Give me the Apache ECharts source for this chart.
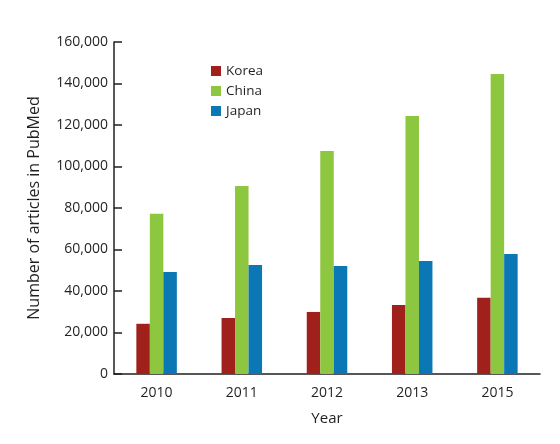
<!DOCTYPE html>
<html><head><meta charset="utf-8">
<script src="https://cdn.jsdelivr.net/npm/echarts@6/dist/echarts.min.js"></script>
<style>html,body{margin:0;padding:0;background:#fff}#c{width:560px;height:444px}</style>
</head><body><div id="c"></div>
<script>
const years = ['2010', '2011', '2012', '2013', '2015'];
const korea = [24200, 27000, 29900, 33200, 36700];
const china = [77200, 90600, 107500, 124300, 144600];
const japan = [49200, 52500, 52000, 54500, 57800];
const yTicks = [0, 20000, 40000, 60000, 80000, 100000, 120000, 140000, 160000];

const font = 'Open Sans';
const txt = '#231f20';
const chart = echarts.init(document.getElementById('c'));
function bar(name, data, color) {
  return {name, type: 'bar', data, barWidth: 13.5, barGap: '0%',
    itemStyle: {color}};
}
chart.setOption({
  animation: false,
  textStyle: {fontFamily: font, color: txt},
  grid: {left: 114, right: 20, top: 42, bottom: 70},
  legend: {
    orient: 'vertical', left: 206, top: 59, itemWidth: 10, itemHeight: 10, itemGap: 6,
    icon: 'rect', textStyle: {fontFamily: font, fontSize: 13.5, color: txt},
    data: ['Korea', 'China', 'Japan']
  },
  xAxis: {
    type: 'category', data: years,
    name: 'Year', nameLocation: 'middle', nameGap: 37,
    nameTextStyle: {fontFamily: font, fontSize: 15, color: txt},
    axisLine: {lineStyle: {color: txt, width: 1.5}},
    axisTick: {show: false},
    axisLabel: {fontFamily: font, fontSize: 14, color: txt, margin: 12}
  },
  yAxis: {
    type: 'value', min: yTicks[0], max: yTicks[yTicks.length - 1], interval: 20000,
    name: 'Number of articles in PubMed', nameLocation: 'middle', nameGap: 72,
    nameTextStyle: {fontFamily: font, fontSize: 16, color: txt},
    axisLine: {show: true, lineStyle: {color: txt, width: 1.5}},
    axisTick: {show: true, inside: true, length: 8, lineStyle: {color: txt, width: 1.5}},
    splitLine: {show: false},
    axisLabel: {fontFamily: font, fontSize: 14, color: txt, margin: 6,
      formatter: v => v.toLocaleString('en-US')}
  },
  series: [
    bar('Korea', korea, '#a0201c'),
    bar('China', china, '#8dc63f'),
    bar('Japan', japan, '#0b77b5')
  ]
});
</script></body></html>
